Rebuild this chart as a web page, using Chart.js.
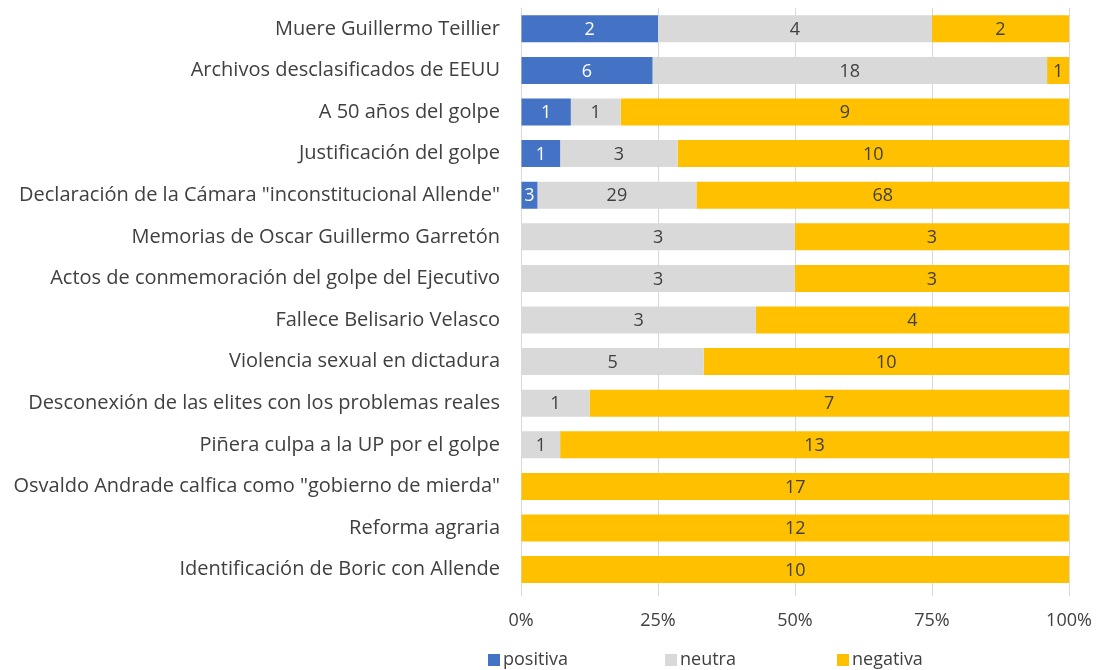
<!DOCTYPE html>
<html>
<head>
<meta charset="utf-8">
<script src="https://cdn.jsdelivr.net/npm/chart.js@4/dist/chart.umd.min.js"></script>
<style>
  html, body { margin: 0; padding: 0; background: #fff; }
  #wrap { width: 1098px; height: 670px; position: relative; }
</style>
</head>
<body>
<div id="wrap"><canvas id="chart"></canvas></div>
<script>
// Temas y conteo de menciones por tono
const categories = [
  'Muere Guillermo Teillier',
  'Archivos desclasificados de EEUU',
  'A 50 años del golpe',
  'Justificación del golpe',
  'Declaración de la Cámara "inconstitucional Allende"',
  'Memorias de Oscar Guillermo Garretón',
  'Actos de conmemoración del golpe del Ejecutivo',
  'Fallece Belisario Velasco',
  'Violencia sexual en dictadura',
  'Desconexión de las elites con los problemas reales',
  'Piñera culpa a la UP por el golpe',
  'Osvaldo Andrade calfica como "gobierno de mierda"',
  'Reforma agraria',
  'Identificación de Boric con Allende'
];
const positiva = [2, 6, 1, 1, 3, 0, 0, 0, 0, 0, 0, 0, 0, 0];
const neutra   = [4, 18, 1, 3, 29, 3, 3, 3, 5, 1, 1, 0, 0, 0];
const negativa = [2, 1, 9, 10, 68, 3, 3, 4, 10, 7, 13, 17, 12, 10];
const xTicks = ['0%', '25%', '50%', '75%', '100%'];

const FONT = '"Open Sans", Lato, sans-serif';
const TEXT = '#404040';

const totals = categories.map((_, i) => positiva[i] + neutra[i] + negativa[i]);
const share = arr => arr.map((v, i) => v / totals[i]);

// numeros dentro de cada segmento
const segmentLabels = {
  id: 'segmentLabels',
  afterDatasetsDraw(chart) {
    const ctx = chart.ctx;
    ctx.save();
    ctx.font = '18px ' + FONT;
    ctx.textAlign = 'center';
    ctx.textBaseline = 'middle';
    chart.data.datasets.forEach((ds, di) => {
      const meta = chart.getDatasetMeta(di);
      meta.data.forEach((el, i) => {
        const n = ds.counts[i];
        if (!n) return;
        const p = el.getProps(['x', 'y', 'base'], true);
        ctx.fillStyle = ds.labelColor;
        ctx.fillText(String(n), (p.x + p.base) / 2, p.y + 1);
      });
    });
    ctx.restore();
  }
};

// leyenda abajo, repartida como en el original
const bottomLegend = {
  id: 'bottomLegend',
  afterDraw(chart) {
    const ctx = chart.ctx;
    const xs = [488, 665, 837];
    const y = 660;
    ctx.save();
    ctx.font = '18px ' + FONT;
    ctx.textBaseline = 'middle';
    ctx.textAlign = 'left';
    chart.data.datasets.forEach((ds, i) => {
      ctx.fillStyle = ds.backgroundColor;
      ctx.fillRect(xs[i], y - 6, 12, 12);
      ctx.fillStyle = TEXT;
      ctx.fillText(ds.label, xs[i] + 15, y);
    });
    ctx.restore();
  }
};

new Chart(document.getElementById('chart'), {
  type: 'bar',
  data: {
    labels: categories,
    datasets: [
      { label: 'positiva', data: share(positiva), counts: positiva, backgroundColor: '#4472C4', labelColor: '#ffffff' },
      { label: 'neutra', data: share(neutra), counts: neutra, backgroundColor: '#D9D9D9', labelColor: TEXT },
      { label: 'negativa', data: share(negativa), counts: negativa, backgroundColor: '#FFC000', labelColor: TEXT }
    ]
  },
  plugins: [segmentLabels, bottomLegend],
  options: {
    indexAxis: 'y',
    responsive: true,
    maintainAspectRatio: false,
    animation: false,
    layout: { padding: { top: 8, right: 29, bottom: 24, left: 0 } },
    datasets: { bar: { barPercentage: 0.65, categoryPercentage: 1 } },
    plugins: { legend: { display: false }, tooltip: { enabled: false } },
    scales: {
      x: {
        stacked: true,
        min: 0,
        max: 1,
        afterBuildTicks: scale => {
          scale.ticks = xTicks.map((_, i) => ({ value: i / (xTicks.length - 1) }));
        },
        afterFit: scale => { scale.paddingLeft = 0; scale.paddingRight = 0; },
        ticks: {
          color: TEXT,
          font: { family: FONT, size: 18 },
          padding: 14,
          maxRotation: 0,
          callback: (v, i) => xTicks[i]
        },
        grid: { color: '#D9D9D9', lineWidth: 1, tickLength: 6 },
        border: { display: false }
      },
      y: {
        stacked: true,
        afterFit: scale => {
          scale.width = 521;
          scale.paddingTop = 0;
          scale.paddingBottom = 0;
        },
        ticks: {
          color: TEXT,
          font: { family: FONT, size: 20 },
          padding: 0
        },
        // marcas invisibles: solo dejan el hueco entre texto y barras
        grid: { drawOnChartArea: false, tickLength: 21, tickColor: 'rgba(0,0,0,0)' },
        border: { display: false }
      }
    }
  }
});
</script>
</body>
</html>
